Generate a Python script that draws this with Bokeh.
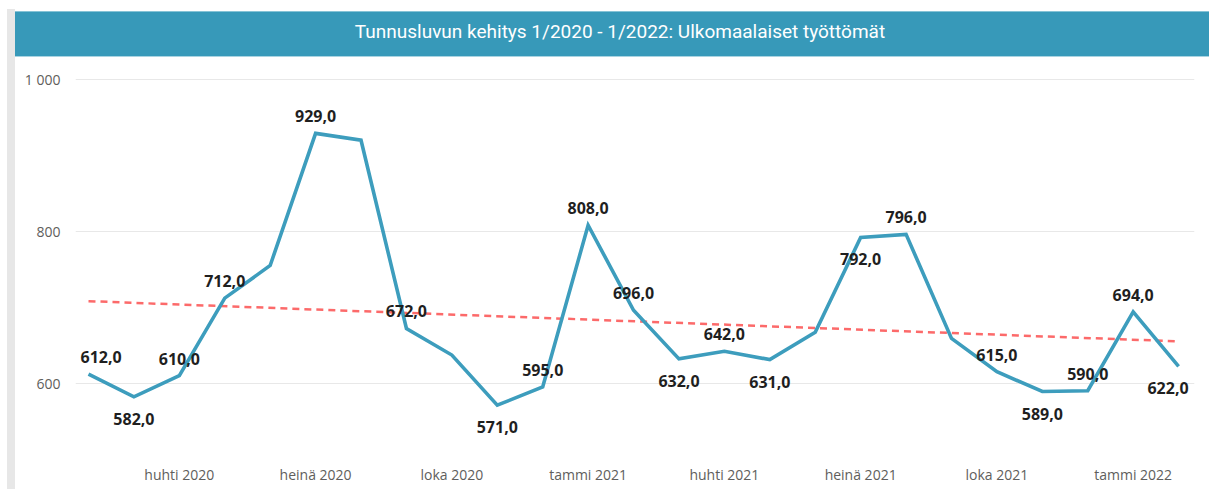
from bokeh.plotting import figure
from bokeh.models import ColumnDataSource, FixedTicker, Div, Range1d
from bokeh.layouts import row, column
from bokeh.embed import file_html
from bokeh.resources import INLINE
from bokeh.core.properties import value

# ---------------- data ----------------
title_text = "Tunnusluvun kehitys 1/2020 - 1/2022: Ulkomaalaiset työttömät"
months = ["1/2020", "2/2020", "3/2020", "4/2020", "5/2020", "6/2020", "7/2020", "8/2020",
          "9/2020", "10/2020", "11/2020", "12/2020", "1/2021", "2/2021", "3/2021", "4/2021",
          "5/2021", "6/2021", "7/2021", "8/2021", "9/2021", "10/2021", "11/2021", "12/2021",
          "1/2022"]
values = [612, 582, 610, 712, 755, 929, 920, 672, 637, 571, 595, 808, 696,
          632, 642, 631, 667, 792, 796, 659, 615, 589, 590, 694, 622]
# where each data label sits (None = no label shown)
label_side = ["above", "below", "above", "above", None, "above", None, "above", None,
              "below", "above", "above", "above", "below", "above", "below", None,
              "below", "above", None, "above", "below", "above", "above", "below"]
tick_labels = ["huhti 2020", "heinä 2020", "loka 2020", "tammi 2021",
               "huhti 2021", "heinä 2021", "loka 2021", "tammi 2022"]
y_ticks = [600, 800, 1000]
trend_start, trend_end = 708, 655

# ---------------- sources ----------------
xs = list(range(len(values)))
src = ColumnDataSource(dict(x=xs, y=values))

lx, ly, lt, la, ldx, ldy = [], [], [], [], [], []
for i, (v, side) in enumerate(zip(values, label_side)):
    if side is None:
        continue
    lx.append(i)
    ly.append(v)
    lt.append(f"{v:.1f}".replace(".", ","))
    if i == 0:
        la.append("left"); ldx.append(-8)
    elif i == len(values) - 1:
        la.append("right"); ldx.append(10)
    else:
        la.append("center"); ldx.append(0)
    ldy.append(-17 if side == "above" else 22)
lsrc = ColumnDataSource(dict(x=lx, y=ly, text=lt, align=la, dx=ldx, dy=ldy))

tsrc = ColumnDataSource(dict(x=[0, len(values) - 1], y=[trend_start, trend_end]))

# ---------------- figure ----------------
p = figure(width=1194, height=432, output_backend="svg", toolbar_location=None,
           x_range=Range1d(-0.286, 24.35), y_range=Range1d(511.3, 1018.4),
           min_border_left=60, min_border_right=15, min_border_top=8, min_border_bottom=39,
           margin=0)
p.outline_line_color = None
p.background_fill_color = "white"
p.border_fill_color = "white"

p.xgrid.visible = False
p.ygrid.grid_line_color = "#e8e8e8"
p.ygrid.grid_line_width = 1

p.yaxis.ticker = FixedTicker(ticks=y_ticks)
p.yaxis.major_label_overrides = {t: f"{t:,}".replace(",", " ") for t in y_ticks}
tick_pos = list(range(2, len(values), 3))
p.xaxis.ticker = FixedTicker(ticks=tick_pos)
p.xaxis.major_label_overrides = {t: lab for t, lab in zip(tick_pos, tick_labels)}

for ax in (p.xaxis[0], p.yaxis[0]):
    ax.axis_line_color = None
    ax.major_tick_line_color = None
    ax.minor_tick_line_color = None
    ax.major_tick_out = 0
    ax.major_tick_in = 0
    ax.major_label_text_font = "Open Sans"
    ax.major_label_text_font_size = "14px"
    ax.major_label_text_color = "#605e5c"
p.yaxis.major_label_standoff = 15
p.xaxis.major_label_standoff = 14

p.line("x", "y", source=tsrc, line_color="#fc6a6a", line_width=2.5, line_dash="7 5")
p.line("x", "y", source=src, line_color="#3d9dbd", line_width=3.6, line_join="miter")
p.text("x", "y", text="text", source=lsrc, text_align="align", text_baseline="middle",
       x_offset="dx", y_offset="dy", text_font=value("Open Sans"),
       text_font_style="bold", text_font_size="16px", text_color="#1f1f1f")

# ---------------- layout ----------------
title_div = Div(text=title_text, width=1194, height=46, margin=(11, 0, 0, 0),
                styles={"background-color": "#3799b9", "color": "#ffffff",
                        "font-family": "Roboto, sans-serif", "font-size": "19px",
                        "text-align": "center", "line-height": "41px",
                        "text-indent": "16px", "white-space": "nowrap",
                        "box-shadow": "inset 0 1px 0 #86c3d6, inset 0 -1px 0 #a9d4e2"})
gray = Div(text="", width=8, height=480, margin=(9, 0, 0, 7),
           styles={"background-color": "#e7e7e7"})
layout = row(gray, column(title_div, p, spacing=0, margin=0), spacing=0, margin=0)

open("out.html", "w").write(file_html(layout, INLINE))
